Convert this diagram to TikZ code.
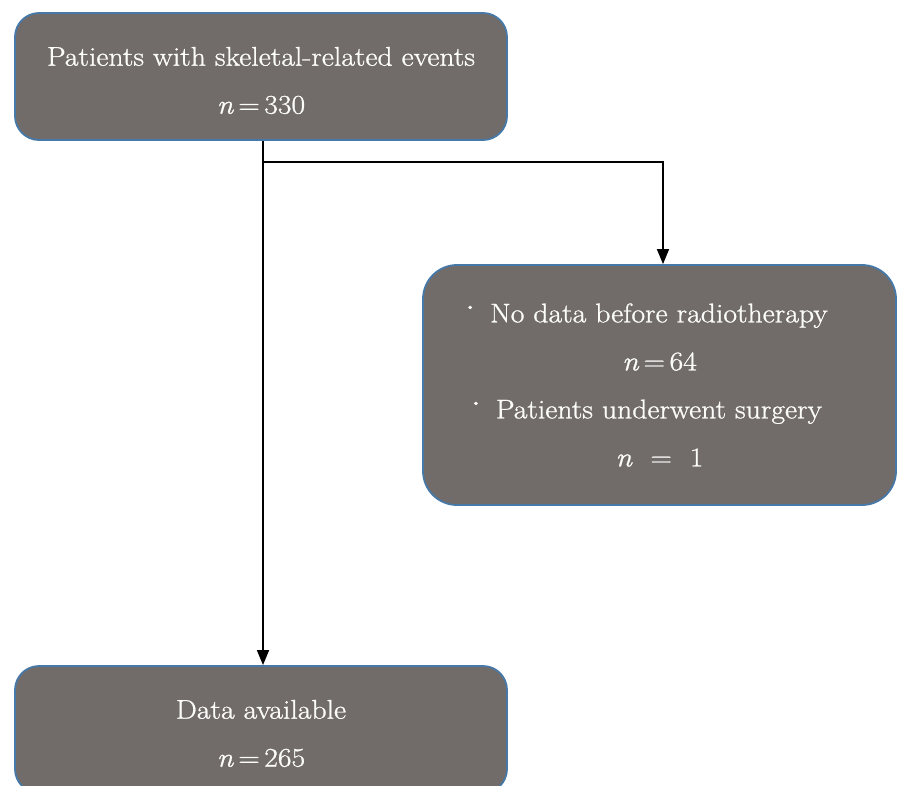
\documentclass[tikz,border=0pt]{standalone}
\usepackage{fontspec}
\setmainfont{Latin Modern Roman}[FakeStretch=1.1,FakeBold=1]
\usetikzlibrary{arrows.meta}
\definecolor{boxfill}{RGB}{113,108,105}
\definecolor{boxline}{RGB}{70,120,168}
\definecolor{boxtext}{RGB}{252,252,250}
\tikzset{
  flowbox/.style={draw=boxline, line width=1.8pt, fill=boxfill, rounded corners=24pt, inner sep=0pt},
  boxlabel/.style={text=boxtext, align=center, font=\fontsize{27}{48}\selectfont, inner sep=0pt},
  conn/.style={line width=1.5pt, -{Triangle[width=12pt,length=15pt]}}
}
\newcommand{\nval}[1]{\textit{n}\,=\,#1}
\newcommand{\bul}{\raisebox{2pt}{\scalebox{1.4}{\textperiodcentered}}\hspace{5pt}}
\newcommand{\bulline}[1]{\mbox{\bul #1\hspace{36pt}}}
\begin{document}
\begin{tikzpicture}[x=1pt,y=-1pt]
\useasboundingbox (0,0) rectangle (897,785);
\clip (0,0) rectangle (897,785);
\node[flowbox, minimum width=492pt, minimum height=127pt] (top) at (261,76.5) {};
\node[boxlabel] (toptext) at ([yshift=-4pt]top.center)
  {Patients with skeletal-related events\\ \nval{330}};
\node[flowbox, minimum width=473pt, minimum height=240pt, rounded corners=34pt] (excl) at (659.5,385) {};
\node[boxlabel] (excltext) at (excl.center)
  {\bulline{No data before radiotherapy}\\ \nval{64}\\ \bulline{Patients underwent surgery}\\ \textit{n}\ \ =\ \ 1};
\node[flowbox, minimum width=492pt, minimum height=127pt] (avail) at (261,729.5) {};
\node[boxlabel] (availtext) at ([yshift=-4pt]avail.center)
  {Data available\\ \nval{265}};
\coordinate (split) at (263,162);
\draw[conn] (top.south -| split) -- (avail.north -| split);
\draw[conn] (split) -| (excl.north -| 663,0);
\end{tikzpicture}
\end{document}
